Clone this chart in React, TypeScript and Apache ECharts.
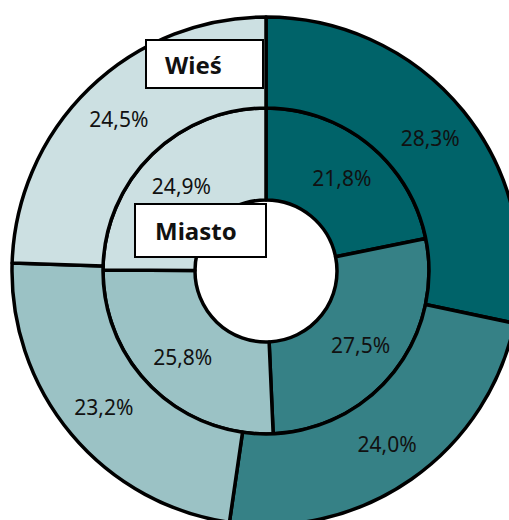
import React, { useEffect, useRef } from "react";
import * as echarts from "echarts";

const categories = ["A", "B", "C", "D"];
const wiesValues = [28.3, 24.0, 23.2, 24.5];
const miastoValues = [21.8, 27.5, 25.8, 24.9];
const colors = ["#006369", "#368186", "#9bc2c5", "#cce0e2"];
const ringLabels = ["Wieś", "Miasto"];

const fmt = (p: any) => Number(p.value).toFixed(1).replace(".", ",") + "%";

export default function App() {
  const ref = useRef<HTMLDivElement>(null);
  useEffect(() => {
    const chart = echarts.init(ref.current!, undefined, { renderer: "svg" });
    const labelStyle = {
      show: true,
      position: "inside",
      formatter: fmt,
      color: "#111",
      fontSize: 21,
      fontFamily: "Noto Sans",
    };
    const itemStyle = { borderColor: "#000", borderWidth: 3.5 };
    const box = (left: number, top: number, w: number, h: number, text: string, tx: number) => ({
      type: "group",
      x: left,
      y: top,
      z: 100,
      zlevel: 1,
      children: [
        { type: "rect", z: 100, zlevel: 1, shape: { x: 0, y: 0, width: w, height: h }, style: { fill: "#fff", stroke: "#000", lineWidth: 2 } },
        {
          type: "text",
          z: 101,
          zlevel: 1,
          x: tx,
          y: h / 2,
          style: { text, fontSize: 24, fontWeight: "bold", fontFamily: "Noto Sans", fill: "#111", verticalAlign: "middle" },
        },
      ],
    });
    chart.setOption({
      animation: false,
      color: colors,
      series: [
        {
          type: "pie",
          center: [266, 271],
          radius: [71, 163],
          startAngle: 90,
          clockwise: true,
          label: labelStyle,
          labelLine: { show: false },
          itemStyle,
          emphasis: { disabled: true },
          data: categories.map((c, i) => ({ name: c, value: miastoValues[i] })),
        },
        {
          type: "pie",
          center: [266, 271],
          radius: [163, 254],
          startAngle: 90,
          clockwise: true,
          label: labelStyle,
          labelLine: { show: false },
          itemStyle,
          emphasis: { disabled: true },
          data: categories.map((c, i) => ({ name: c, value: wiesValues[i] })),
        },
      ],
      graphic: [box(146, 40, 117, 48, ringLabels[0], 19), box(135, 204, 131, 53, ringLabels[1], 20)],
    });
    return () => chart.dispose();
  }, []);
  return <div ref={ref} style={{ position: "absolute", left: 0, top: 0, width: 509, height: 520 }} />;
}
